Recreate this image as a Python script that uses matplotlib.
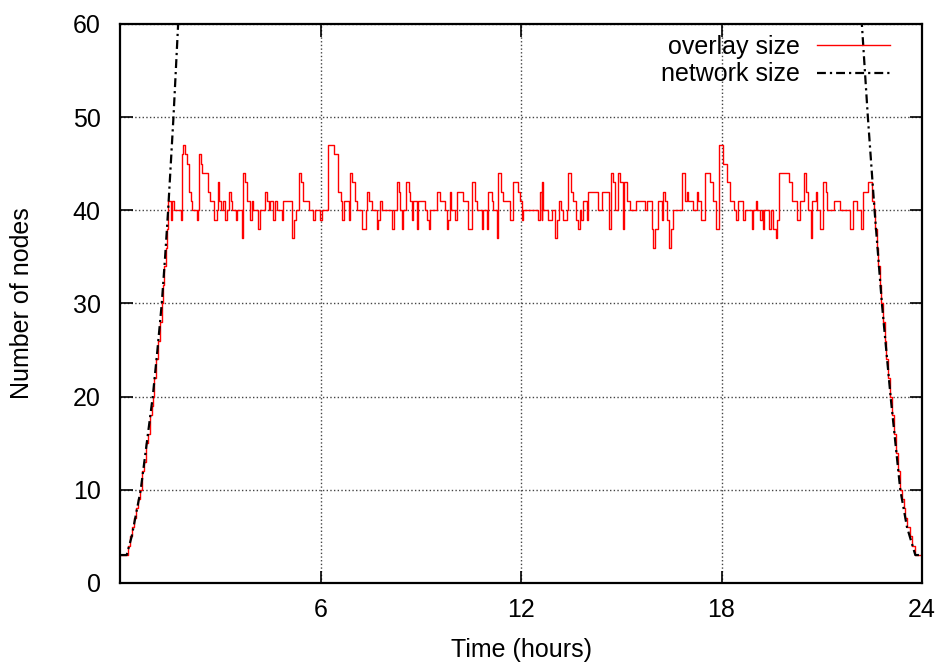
import matplotlib.pyplot as plt

plt.rcParams['font.family'] = ['Liberation Sans', 'DejaVu Sans']

# Network size (hours, nodes); values above 60 are clipped by the axes
network_t = [0.0, 0.2, 0.35, 0.62, 0.8, 0.98, 1.12, 1.25, 1.35, 1.44, 1.52, 1.6, 1.67, 1.74, 2.0,
             22.0, 22.2, 22.38, 22.58, 22.8, 23.06, 23.35, 23.55, 23.8, 24.0]
network_n = [3, 3, 5, 10, 15, 20, 25, 30, 35, 40, 45, 50, 55, 60, 78,
             78, 60, 50, 40, 30, 20, 10, 6, 3, 3]

# Overlay size, step series (hours, nodes)
overlay_t = [0.0, 0.24, 0.30, 0.36, 0.42, 0.48, 0.53, 0.60, 0.66, 0.72, 0.78, 0.84, 0.90, 0.95,
             0.98, 1.03, 1.09, 1.14, 1.19, 1.25, 1.29, 1.33, 1.37, 1.40, 1.44,
             1.45, 1.53, 1.56, 1.63, 1.83, 1.85, 1.88, 1.95, 2.00, 2.05, 2.12, 2.16, 2.29, 2.34,
             2.36, 2.41, 2.46, 2.62, 2.68, 2.82, 2.89, 2.92, 2.97, 3.02, 3.09, 3.14, 3.19, 3.27,
             3.31, 3.36, 3.46, 3.51, 3.64, 3.69, 3.74, 3.81, 3.89, 3.94, 3.99, 4.14, 4.19, 4.34,
             4.39, 4.45, 4.49, 4.59, 4.64, 4.69, 4.84, 4.89, 5.14, 5.21, 5.27, 5.37, 5.42, 5.49,
             5.66, 5.78, 5.83, 5.98, 6.03, 6.21, 6.40, 6.53, 6.60, 6.65, 6.70, 6.85, 6.88, 6.93,
             7.03, 7.10, 7.25, 7.35, 7.38, 7.46, 7.55, 7.68, 7.73, 7.78, 7.83, 8.13, 8.20, 8.30,
             8.35, 8.38, 8.43, 8.48, 8.55, 8.65, 8.68, 8.73, 8.78, 8.88, 8.93, 9.13, 9.18, 9.25,
             9.28, 9.48, 9.58, 9.73, 9.78, 9.83, 9.87, 9.92, 10.02, 10.07, 10.27, 10.42, 10.52,
             10.62, 10.67, 10.82, 10.87, 10.97, 11.02, 11.12, 11.17, 11.27, 11.30, 11.40, 11.47,
             11.67, 11.75, 11.92, 11.97, 12.02, 12.07, 12.52, 12.57, 12.62, 12.64, 12.67, 12.82,
             12.92, 13.02, 13.09, 13.15, 13.20, 13.27, 13.37, 13.42, 13.50, 13.56, 13.66, 13.71,
             13.76, 13.81, 13.86, 13.96, 14.01, 14.31, 14.41, 14.64, 14.69, 14.74, 14.81, 14.91,
             14.96, 15.06, 15.09, 15.18, 15.26, 15.44, 15.71, 15.76, 15.91, 15.96, 16.01, 16.11,
             16.21, 16.26, 16.31, 16.36, 16.44, 16.48, 16.56, 16.81, 16.91, 16.96, 17.01, 17.14,
             17.26, 17.30, 17.40, 17.52, 17.65, 17.75, 17.83, 17.92, 18.03, 18.17, 18.25, 18.37,
             18.43, 18.50, 18.65, 18.70, 18.85, 18.90, 18.95, 19.03, 19.07, 19.15, 19.20, 19.23,
             19.27, 19.43, 19.47, 19.55, 19.63, 19.67, 19.73, 20.03, 20.10, 20.27, 20.35, 20.48,
             20.53, 20.60, 20.67, 20.71, 20.83, 20.87, 20.95, 21.03, 21.13, 21.17, 21.37, 21.56,
             21.84, 21.94, 22.04, 22.16, 22.24, 22.39, 22.50, 22.56, 22.60, 22.65, 22.69, 22.74,
             22.78, 22.83, 22.88, 22.93, 22.98, 23.04, 23.09, 23.15, 23.21, 23.27, 23.33, 23.40,
             23.45, 23.50, 23.55, 23.63, 23.70, 23.78, 24.0]
overlay_n = [3, 4, 5, 6, 7, 8, 9, 10, 12, 13, 15, 16, 18, 19,
             20, 22, 24, 26, 28, 30, 32, 34, 36, 38, 40,
             41, 39, 41, 40, 39, 46, 47, 46, 45, 42, 41, 40, 39, 40,
             46, 45, 44, 42, 41, 39, 40, 43, 41, 40, 41, 39, 40, 42,
             41, 40, 39, 40, 37, 44, 43, 41, 39, 41, 40, 38, 40, 42,
             41, 40, 41, 39, 41, 40, 39, 41, 37, 39, 40, 44, 43, 41,
             40, 39, 40, 39, 40, 47, 46, 42, 41, 39, 41, 39, 44, 43,
             41, 40, 38, 40, 42, 41, 40, 38, 39, 41, 40, 38, 40, 43,
             42, 40, 38, 40, 43, 42, 41, 39, 41, 38, 41, 40, 39, 38,
             40, 42, 41, 40, 38, 39, 42, 40, 39, 42, 41, 38, 43,
             41, 40, 38, 40, 38, 42, 41, 40, 37, 44, 42, 41,
             39, 43, 42, 41, 39, 40, 39, 42, 39, 43, 40, 39,
             40, 37, 39, 41, 40, 39, 40, 44, 42, 41, 39, 38,
             40, 39, 41, 39, 42, 40, 42, 38, 44, 43, 40, 44,
             43, 38, 43, 41, 40, 41, 40, 41, 38, 36, 38, 41,
             39, 42, 41, 39, 36, 38, 40, 44, 41, 42, 41, 40,
             42, 41, 39, 44, 43, 41, 38, 47, 45, 43, 41, 40,
             39, 41, 39, 40, 40, 38, 40, 41, 40, 39, 40, 38,
             40, 38, 40, 38, 37, 39, 44, 43, 41, 39, 41, 44,
             42, 40, 37, 41, 42, 40, 38, 43, 42, 40, 41, 40,
             38, 41, 40, 38, 42, 43, 41, 40, 38, 36, 34, 32,
             30, 28, 26, 24, 22, 20, 18, 16, 14, 12, 10, 9,
             8, 7, 6, 5, 4, 3, 3]

x_ticks = [6, 12, 18, 24]
y_ticks = [0, 10, 20, 30, 40, 50, 60]

fig = plt.figure(figsize=(9.39, 6.64), dpi=100)
ax = fig.add_axes([0.1278, 0.122, 0.8541, 0.8419])

ax.step(overlay_t, overlay_n, where='post', color='red', linewidth=1.0, label='overlay size')
ax.plot(network_t, network_n, color='black', linestyle='-.', linewidth=1.6,
        dashes=(4, 1.8, 1, 1.8), label='network size')

ax.set_xlim(0, 24)
ax.set_ylim(0, 60)
ax.set_xticks(x_ticks)
ax.set_yticks(y_ticks)
ax.grid(True, color='#444444', linestyle=':', linewidth=1.0)

ax.tick_params(axis='x', direction='in', length=9, width=1.2, labelsize=18,
               top=True, pad=11)
ax.tick_params(axis='y', direction='in', length=9, width=1.2, labelsize=18,
               right=True, pad=14)
for s in ax.spines.values():
    s.set_linewidth(1.6)

ax.set_xlabel('Time (hours)', fontsize=18)
ax.set_ylabel('Number of nodes', fontsize=18)
ax.xaxis.set_label_coords(0.5, -0.098)
ax.yaxis.set_label_coords(-0.107, 0.5)

ax.legend(loc='upper right', bbox_to_anchor=(0.96, 0.981), frameon=False,
          markerfirst=False, fontsize=18, handlelength=2.9, handletextpad=0.7,
          labelspacing=0.15, borderaxespad=0, borderpad=0)

plt.savefig('out.png', dpi=100)
